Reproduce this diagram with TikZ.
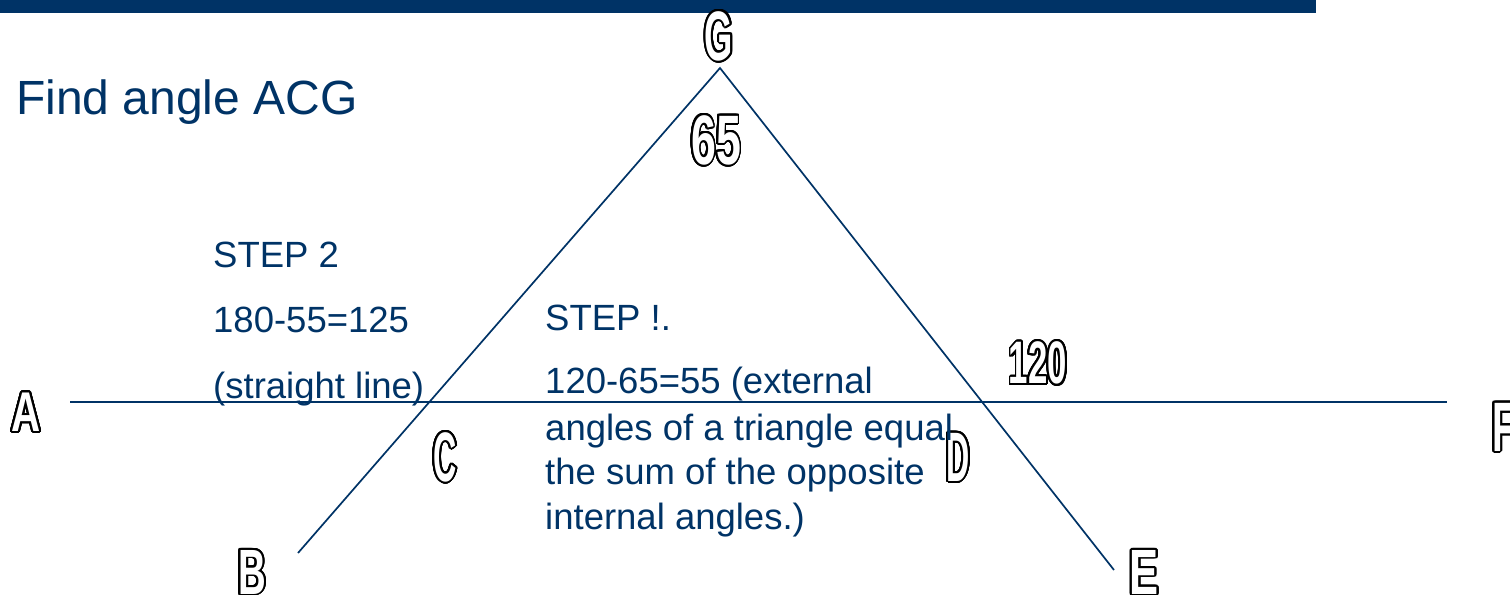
\documentclass[tikz,border=0pt]{standalone}
\usepackage{fontspec}
\setmainfont{Liberation Sans}
\newfontfamily\outl{Liberation Sans}
\usepackage{contour}
\contourlength{1.9pt}
\contournumber{32}
\usepackage{graphicx}
\definecolor{navy}{HTML}{003366}
\newcommand{\olab}[3]{\contour{black}{\scalebox{#2}[1]{\fontsize{#1}{#1}\selectfont\outl\bfseries #3}}}
\tikzset{
  olabel/.style={text=white, inner sep=0pt},
  body/.style={text=navy, inner sep=0pt, anchor=base west, font=\fontsize{36.5}{40}\selectfont},
  geo/.style={draw=navy, line width=1.7pt},
}
\begin{document}
\begin{tikzpicture}[x=1pt,y=-1pt]
\useasboundingbox (0,0) rectangle (1510,600);
\fill[navy] (0,0) rectangle (1316,13);
% title
\node[text=navy, inner sep=0pt, anchor=base west, font=\fontsize{48}{50}\selectfont] (title) at (16,114) {Find angle ACG};
% geometry
\coordinate (Gp) at (720,68);
\coordinate (Bp) at (298,553);
\coordinate (Ep) at (1114,570);
\coordinate (Ap) at (70,402);
\coordinate (Fp) at (1447,402);
\draw[geo] (Bp) -- (Gp) -- (Ep);
\draw[geo] (Ap) -- (Fp);
% outlined labels
\node[olabel] (lG) at (719,37) {\olab{70}{0.52}{G}};
\node[olabel] (l65) at (716,141) {\olab{70}{0.64}{65}};
\node[olabel] (l120) at (1038,364) {\olab{60}{0.58}{120}};
\node[olabel] (lA) at (26,413) {\olab{56}{0.72}{A}};
\node[olabel] (lB) at (252,573) {\olab{64}{0.6}{B}};
\node[olabel] (lC) at (445,458) {\olab{70}{0.46}{C}};
\node[olabel] (lD) at (958,458) {\olab{70}{0.46}{D}};
\node[olabel] (lE) at (1144,573) {\olab{64}{0.68}{E}};
\node[olabel, anchor=west] (lF) at (1492,428) {\olab{70}{0.55}{F}};
% step 2 text
\node[body] (s2a) at (213,267) {STEP 2};
\node[body] (s2b) at (213,332) {180-55=125};
\node[body] (s2c) at (213,398) {(straight line)};
% step 1 text
\node[body] (s1a) at (545,330) {STEP !.};
\node[body] (s1b) at (545,393) {120-65=55 (external};
\node[body] (s1c) at (545,440) {angles of a triangle equal};
\node[body] (s1d) at (545,484) {the sum of the opposite};
\node[body] (s1e) at (545,529) {internal angles.)};
\end{tikzpicture}
\end{document}
